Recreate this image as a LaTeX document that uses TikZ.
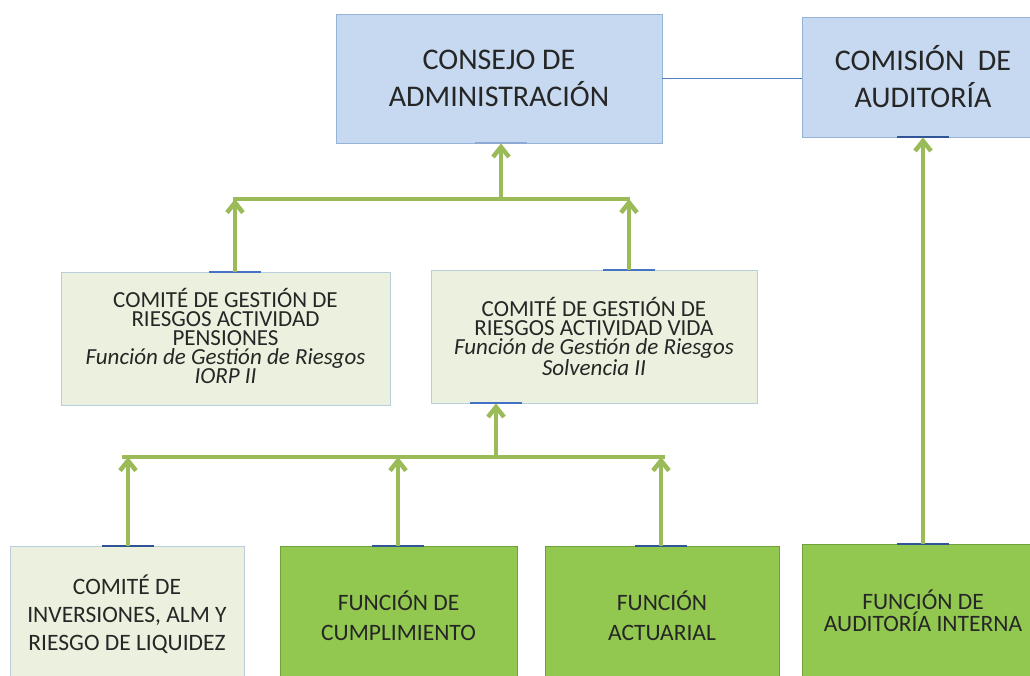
\documentclass[tikz,border=0pt]{standalone}
\usepackage{fontspec}
\setmainfont{Carlito}
\usetikzlibrary{arrows.meta,calc}
\definecolor{bluefill}{RGB}{198,217,240}
\definecolor{blueedge}{RGB}{149,179,215}
\definecolor{lgfill}{RGB}{235,241,222}
\definecolor{lgedge}{RGB}{185,205,220}
\definecolor{dgfill}{RGB}{146,200,80}
\definecolor{dgedge}{RGB}{112,160,60}
\definecolor{arrgreen}{RGB}{155,187,89}
\definecolor{linkblue}{RGB}{79,129,189}
\definecolor{markblue}{RGB}{47,85,151}
\definecolor{markmid}{RGB}{68,114,196}
\definecolor{marklight}{RGB}{140,170,210}
\definecolor{txt}{RGB}{38,38,38}
\begin{document}
\begin{tikzpicture}[x=1pt,y=-1pt,
  box/.style={draw, line width=0.8pt, inner sep=0pt, align=center, text=txt},
  topbox/.style={box, fill=bluefill, draw=blueedge, font=\fontsize{30}{37}\selectfont},
  combox/.style={box, fill=lgfill, draw=lgedge, font=\fontsize{23}{19.2}\selectfont},
  lowlight/.style={box, fill=lgfill, draw=lgedge, font=\fontsize{23.5}{28}\selectfont},
  lowdark/.style={box, fill=dgfill, draw=dgedge, font=\fontsize{23.5}{30}\selectfont},
  arr/.style={draw=arrgreen, line width=4pt, -{Straight Barb[length=10pt,width=16pt,line width=4.5pt]}},
  barline/.style={draw=arrgreen, line width=4.5pt},
  mk/.style={line width=2pt},
]
\useasboundingbox (0,0) rectangle (1030,675);

% boxes
\node[topbox, minimum width=326pt, minimum height=129pt] (consejo) at (499,78.5) {CONSEJO DE\\ADMINISTRACIÓN};
\node[topbox, minimum width=242pt, minimum height=120pt] (comision) at (923,77) {COMISIÓN~ DE\\AUDITORÍA};
\node[combox, minimum width=329pt, minimum height=133pt] (pens) at (225.5,338.5)
  {COMITÉ DE GESTIÓN DE\\RIESGOS ACTIVIDAD\\PENSIONES\\\textit{Función de Gestión de Riesgos}\\\textit{IORP II}\\[-14pt]};
\node[combox, minimum width=326pt, minimum height=133pt] (vida) at (594,336.5)
  {COMITÉ DE GESTIÓN DE\\RIESGOS ACTIVIDAD VIDA\\\textit{Función de Gestión de Riesgos}\\\textit{Solvencia II}};
\node[lowlight, minimum width=234pt, minimum height=137pt] (inv) at (127,614.5)
  {COMITÉ DE\\INVERSIONES, ALM Y\\RIESGO DE LIQUIDEZ};
\node[lowdark, minimum width=237pt, minimum height=140pt] (cumpl) at (398.5,616)
  {FUNCIÓN DE\\CUMPLIMIENTO};
\node[lowdark, minimum width=234pt, minimum height=139pt] (act) at (662,615.5)
  {FUNCIÓN\\ACTUARIAL};
\node[lowdark, font=\fontsize{23.5}{22}\selectfont, minimum width=242pt, minimum height=134pt] (audint) at (923,611)
  {FUNCIÓN DE\\AUDITORÍA INTERNA};

% junction coordinates
\coordinate (tL) at (233,199);
\coordinate (tR) at (630,199);
\coordinate (j0) at (501,199);
\coordinate (j1) at (235,199);
\coordinate (j2) at (629,199);
\coordinate (bL) at (122,457);
\coordinate (bR) at (665,457);
\coordinate (k0) at (496,457);
\coordinate (k1) at (128,457);
\coordinate (k2) at (398,457);
\coordinate (k3) at (661,457);

% link between boards
\draw[linkblue, line width=1.8pt] (consejo.east) -- (consejo.east -| comision.west);

% connection marks
\draw[mk, marklight] ($(consejo.south -| j0)+(-26,0)$) -- ++(52,0);
\draw[mk, markmid] ($(pens.north -| j1)+(-26,0)$) -- ++(52,0);
\draw[mk, markmid] ($(vida.north -| j2)+(-26,0)$) -- ++(52,0);
\draw[mk, markmid] ($(vida.south -| k0)+(-26,0)$) -- ++(52,0);
\draw[mk, markblue] ($(comision.south)+(-26,0)$) -- ++(52,0);
\draw[mk, markblue] ($(inv.north -| k1)+(-26,0)$) -- ++(52,0);
\draw[mk, markblue] ($(cumpl.north -| k2)+(-26,0)$) -- ++(52,0);
\draw[mk, markblue] ($(act.north -| k3)+(-26,0)$) -- ++(52,0);
\draw[mk, markblue] ($(audint.north)+(-26,0)$) -- ++(52,0);

% upper bar and arrows
\draw[barline] (tL) -- (tR);
\draw[arr] (j0) -- (j0 |- consejo.south);
\draw[arr] (pens.north -| j1) -- (j1);
\draw[arr] (vida.north -| j2) -- (j2);

% lower bar and arrows
\draw[barline] (bL) -- (bR);
\draw[arr] (k0) -- (k0 |- vida.south);
\draw[arr] (inv.north -| k1) -- (k1);
\draw[arr] (cumpl.north -| k2) -- (k2);
\draw[arr] (act.north -| k3) -- (k3);

% audit arrow
\draw[arr] (audint.north) -- (audint.north |- comision.south);
\end{tikzpicture}
\end{document}
